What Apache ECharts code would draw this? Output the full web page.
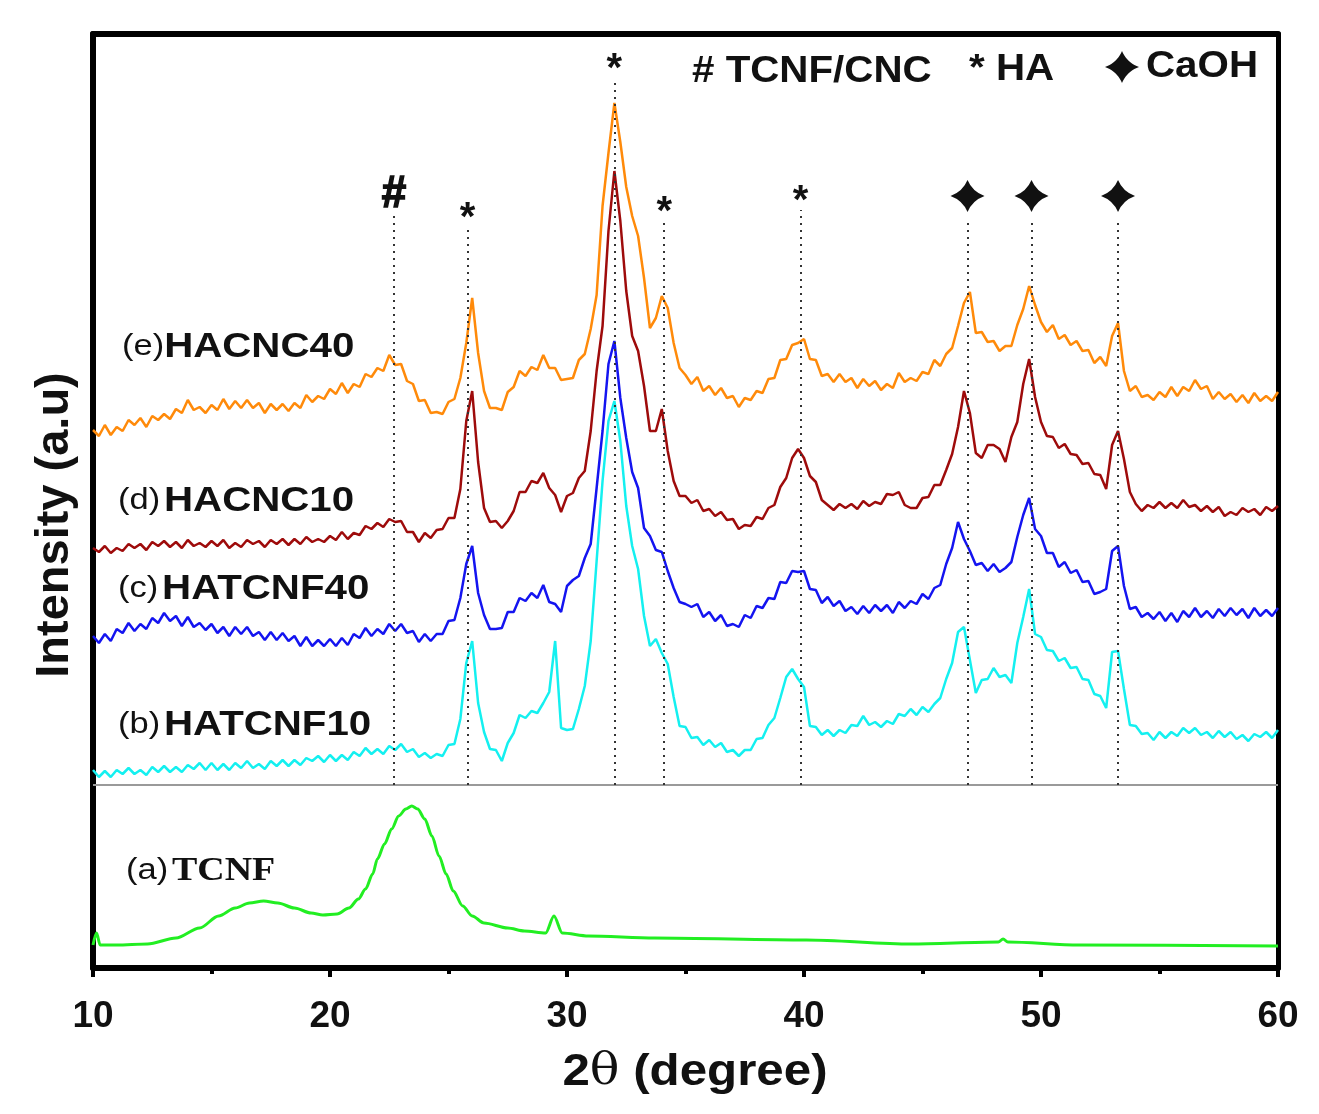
<!DOCTYPE html>
<html><head><meta charset="utf-8">
<script src="https://cdn.jsdelivr.net/npm/echarts@6/dist/echarts.min.js"></script>
<style>html,body{margin:0;padding:0;background:#fff}#c{width:1319px;height:1114px}</style>
</head><body><div id="c"></div>
<script>
// 2-theta sampling grid (degree)
const twoTheta = [
10,10.25,10.5,10.75,11,11.25,11.5,11.75,12,12.25,12.5,12.75,13,13.25,13.5,13.75,14,14.25,14.5,14.75,
15,15.25,15.5,15.75,16,16.25,16.5,16.75,17,17.25,17.5,17.75,18,18.25,18.5,18.75,19,19.25,19.5,19.75,
20,20.25,20.5,20.75,21,21.25,21.5,21.75,22,22.25,22.5,22.75,23,23.25,23.5,23.75,24,24.25,24.5,24.75,
25,25.25,25.5,25.75,26,26.25,26.5,26.75,27,27.25,27.5,27.75,28,28.25,28.5,28.75,29,29.25,29.5,29.75,
30,30.25,30.5,30.75,31,31.25,31.5,31.75,32,32.25,32.5,32.75,33,33.25,33.5,33.75,34,34.25,34.5,34.75,
35,35.25,35.5,35.75,36,36.25,36.5,36.75,37,37.25,37.5,37.75,38,38.25,38.5,38.75,39,39.25,39.5,39.75,
40,40.25,40.5,40.75,41,41.25,41.5,41.75,42,42.25,42.5,42.75,43,43.25,43.5,43.75,44,44.25,44.5,44.75,
45,45.25,45.5,45.75,46,46.25,46.5,46.75,47,47.25,47.5,47.75,48,48.25,48.5,48.75,49,49.25,49.5,49.75,
50,50.25,50.5,50.75,51,51.25,51.5,51.75,52,52.25,52.5,52.75,53,53.25,53.5,53.75,54,54.25,54.5,54.75,
55,55.25,55.5,55.75,56,56.25,56.5,56.75,57,57.25,57.5,57.75,58,58.25,58.5,58.75,59,59.25,59.5,59.75,
60];

// (e) HACNC40 (stacked intensity, a.u.)
const hacnc40 = [
538,532,543,533,541,537,548,543,550,541,552,548,554,549,559,555,568,558,561,555,
563,558,569,559,567,560,568,560,565,555,564,558,564,557,565,560,573,566,572,569,
579,574,585,575,584,581,594,591,600,597,613,603,604,587,584,567,568,555,556,554,
566,569,590,625,670,615,577,560,560,558,576,581,597,592,601,598,613,600,600,588,
589,590,608,614,639,673,762,815,865,826,781,752,732,690,640,650,672,660,625,600,
593,584,591,577,582,573,580,570,572,561,570,568,577,575,589,590,608,609,623,625,
629,609,608,592,594,586,594,586,590,580,589,582,587,578,584,580,595,586,590,587,
596,594,608,602,614,620,642,665,676,635,636,626,627,617,622,622,643,659,682,663,
646,636,643,629,633,623,627,617,618,605,611,602,632,645,597,577,582,571,573,568,
576,571,581,572,581,577,588,579,582,569,576,569,574,566,573,565,575,567,572,567,
576];

// (d) HACNC10
const hacnc10 = [
420,416,422,415,420,417,424,420,424,418,426,422,427,421,426,420,428,422,425,421,
427,422,428,420,425,421,428,424,427,421,428,424,429,423,429,424,431,426,429,426,
432,428,436,429,435,433,442,439,445,441,449,446,447,436,436,426,435,430,438,439,
450,450,479,547,577,506,460,446,447,440,447,457,476,476,487,485,495,480,473,456,
472,475,490,497,537,597,642,737,797,747,677,632,617,582,537,537,559,517,487,472,
472,465,468,457,459,452,456,448,449,439,443,442,451,449,460,463,481,490,510,519,
510,492,486,468,463,458,464,460,464,459,467,462,466,464,474,473,476,463,460,460,
470,471,483,483,498,514,541,577,555,515,510,523,523,519,506,531,546,584,609,571,
546,532,531,520,524,514,513,504,505,494,493,479,523,537,509,476,464,457,463,460,
466,460,465,460,468,461,463,457,462,456,461,452,456,453,460,456,459,453,461,457,
462];

// (c) HATCNF40
const hatcnf40 = [
332,325,334,327,339,335,345,337,344,339,350,345,355,347,352,342,351,341,345,338,
344,335,341,332,341,334,341,332,336,328,336,328,335,327,332,322,331,322,328,322,
329,322,330,323,334,330,340,332,339,334,344,337,344,335,337,326,334,327,334,334,
347,348,370,404,422,375,353,339,339,340,356,356,370,367,375,370,383,366,364,356,
382,388,392,410,424,480,537,604,627,570,530,496,480,440,432,418,416,397,380,366,
364,361,364,351,356,347,353,342,344,341,353,350,362,360,370,369,386,385,397,396,
397,379,378,365,371,362,367,357,361,354,362,355,363,357,363,355,366,360,367,364,
374,369,380,383,404,420,446,429,417,403,405,397,404,396,400,406,431,453,470,439,
432,415,415,401,406,395,398,386,387,374,376,379,417,422,382,359,361,351,355,349,
356,347,355,346,357,351,360,351,357,350,359,352,360,353,359,350,360,352,358,352,
360];

// (b) HATCNF10
const hatcnf10 = [
198,191,197,191,198,194,200,194,198,193,201,196,202,196,201,196,203,199,205,198,
205,198,204,198,205,200,207,200,204,199,207,202,208,202,208,203,210,207,212,206,
213,207,213,208,216,212,220,214,219,214,222,218,224,216,219,211,215,210,214,212,
223,224,249,305,327,265,236,219,218,207,225,235,253,250,257,255,265,276,327,240,
238,239,259,282,327,407,487,547,567,527,462,422,399,352,322,329,315,304,271,242,
241,230,231,223,228,221,225,216,218,212,218,218,229,230,243,250,270,291,299,289,
281,242,241,233,238,232,238,235,243,242,252,243,246,241,247,244,254,252,259,253,
261,256,264,270,289,305,336,341,308,275,288,289,300,291,293,285,325,351,379,334,
331,318,317,307,310,300,301,289,288,274,272,260,316,317,279,243,242,234,235,228,
236,230,236,232,240,235,240,233,236,230,237,231,236,229,233,227,234,231,236,230,
238];

// (a) TCNF  [2theta, intensity]
const tcnf = [[10,23],[10.15,35],[10.3,23],[11,23],[12.3,24],[13.5,30],[14.5,40],[15.3,52],[16,60],[16.6,65],
[17.2,67],[17.8,65],[18.5,60],[19.2,55],[19.7,53],[20.3,54],[20.8,60],[21.2,69],[21.5,79],[21.8,94],
[22,109],[22.3,124],[22.6,139],[22.9,152],[23.2,159],[23.45,162],[23.7,159],[24,149],[24.3,132],[24.6,112],
[24.9,94],[25.2,77],[25.6,62],[26,52],[26.5,45],[27.5,40],[28.2,37],[29.1,35],[29.45,52],[29.8,35],
[30.9,32],[33.7,30],[40.1,28],[44.5,24],[48.2,26],[48.4,29],[48.6,26],[51.6,23],[60,22]];

const xTicks = [10,20,30,40,50,60];
const yRange = [0,934];
const separatorLevel = 183;
const peakPos = [22.7,25.8,32.0,34.1,39.85,46.9,49.6,53.25];
const peakSymbol = ['#','*','*','*','*','✦','✦','✦'];
const peakLineTop = [752,739,888,746,758,750,750,750];
const peakLabelLevel = [773,749,898,755,766,772,772,772];

const seriesNames = ['HACNC40','HACNC10','HATCNF40','HATCNF10','TCNF'];
const seriesTags = ['(e)','(d)','(c)','(b)','(a)'];

const FONT = '"Liberation Sans", Arial, sans-serif';
const STAR = 'path://M10,0 Q12.8,7.2 20,10 Q12.8,12.8 10,20 Q7.2,12.8 0,10 Q7.2,7.2 10,0 Z';

// four-pointed star outline as polygon points (for the legend glyph)
function starPolygon(cx, cy, w, h){
  const ctrl = [[12.8,7.2],[12.8,12.8],[7.2,12.8],[7.2,7.2]];
  const tips = [[10,0],[20,10],[10,20],[0,10],[10,0]];
  const pts = [];
  for (let k=0;k<4;k++){
    const a=tips[k], b=tips[k+1], c=ctrl[k];
    for (let t=0;t<1;t+=0.1){
      const x=(1-t)*(1-t)*a[0]+2*(1-t)*t*c[0]+t*t*b[0];
      const y=(1-t)*(1-t)*a[1]+2*(1-t)*t*c[1]+t*t*b[1];
      pts.push([cx-w/2+x*w/20, cy-h/2+y*h/20]);
    }
  }
  return pts;
}

const chart = echarts.init(document.getElementById('c'));
const zip = arr => twoTheta.map((x,i)=>[x,arr[i]]);
const lineS = (name, arr, color) => ({
  name, type:'line', data: zip(arr), showSymbol:false, symbol:'none', animation:false,
  lineStyle:{color, width:2.5}, itemStyle:{color}, z:2, silent:true
});

const markData = [
  [{coord:[xTicks[0], separatorLevel], lineStyle:{type:'solid', color:'#9a9a9a', width:2}},
   {coord:[xTicks[xTicks.length-1], separatorLevel]}]
];
peakPos.forEach((x,i)=>{
  markData.push([{coord:[x, separatorLevel]},{coord:[x, peakLineTop[i]]}]);
});

function label(tag, name, x, y, serif){
  return {
    type:'text', x, y, scaleX:1.15, z:10,
    style:{
      text:'{p|'+tag+'}'+(tag==='(e)'?'':' ')+'{'+(serif?'s':'b')+'|'+name+'}',
      verticalAlign:'middle', align:'left',
      rich:{
        p:{fontSize:30, fontFamily:FONT, fill:'#111'},
        b:{fontSize:35, fontWeight:'bold', fontFamily:FONT, fill:'#111'},
        s:{fontSize:33, fontWeight:'bold', fontFamily:'"Liberation Serif", "Times New Roman", serif', fill:'#111'}
      }
    }
  };
}

chart.setOption({
  animation:false,
  backgroundColor:'#fff',
  grid:{left:93, right:41, top:34, bottom:146, containLabel:false},
  xAxis:[
    {type:'value', min:xTicks[0], max:xTicks[xTicks.length-1], interval:xTicks[1]-xTicks[0], position:'bottom',
     axisLine:{show:true, onZero:false, lineStyle:{color:'#000', width:6}},
     axisTick:{show:true, length:9, lineStyle:{color:'#000', width:4}},
     minorTick:{show:true, splitNumber:2, length:6, lineStyle:{color:'#000', width:4}},
     axisLabel:{fontSize:37, fontWeight:'bold', fontFamily:FONT, color:'#111', margin:30},
     splitLine:{show:false}},
    {type:'value', min:xTicks[0], max:xTicks[xTicks.length-1], position:'top',
     axisLine:{show:true, onZero:false, lineStyle:{color:'#000', width:6}},
     axisTick:{show:false}, axisLabel:{show:false}, splitLine:{show:false}}
  ],
  yAxis:[
    {type:'value', min:yRange[0], max:yRange[1], position:'left',
     axisLine:{show:true, onZero:false, lineStyle:{color:'#000', width:6}},
     axisTick:{show:false}, axisLabel:{show:false}, splitLine:{show:false}},
    {type:'value', min:yRange[0], max:yRange[1], position:'right',
     axisLine:{show:true, onZero:false, lineStyle:{color:'#000', width:5}},
     axisTick:{show:false}, axisLabel:{show:false}, splitLine:{show:false}}
  ],
  series:[
    lineS(seriesNames[0], hacnc40, '#ff8a0a'),
    lineS(seriesNames[1], hacnc10, '#9e0b0b'),
    lineS(seriesNames[2], hatcnf40, '#1414f0'),
    lineS(seriesNames[3], hatcnf10, '#14f0f0'),
    {name:seriesNames[4], type:'line', data:tcnf, smooth:0.3, smoothMonotone:'x', showSymbol:false, symbol:'none',
     lineStyle:{color:'#22ee22', width:3}, itemStyle:{color:'#22ee22'}, z:2, silent:true,
     markLine:{silent:true, symbol:['none','none'], label:{show:false}, animation:false,
       lineStyle:{type:[2,5], color:'#333', width:2}, data:markData}},
    {type:'custom', coordinateSystem:'cartesian2d', silent:true, z:5,
     encode:{x:0, y:1},
     data: peakPos.map((x,i)=>[x, peakLabelLevel[i], i]).filter(d=>peakSymbol[d[2]]!=='✦'),
     renderItem:(params, api)=>{
       const p = api.coord([api.value(0), api.value(1)]);
       const s = peakSymbol[api.value(2)];
       return {type:'text', x:p[0], y:p[1], style:{text:s, fill:'#111',
         fontSize: s==='#'?44:40, fontWeight:'bold', fontFamily:FONT, align:'center', verticalAlign:'middle',
         stroke: s==='#'?'#111':null, lineWidth: s==='#'?1.5:0}};
     }},
    {type:'scatter', silent:true, z:5, symbol:STAR, symbolSize:[34,32], itemStyle:{color:'#111', opacity:1},
     data: peakPos.map((x,i)=>[x, peakLabelLevel[i], i]).filter(d=>peakSymbol[d[2]]==='✦')}
  ],
  graphic:[
    {type:'text', x:55, y:525, rotation:Math.PI/2, z:10,
     style:{text:'Intensity (a.u)', fontSize:47, fontWeight:'bold', fontFamily:FONT, fill:'#111', align:'center', verticalAlign:'middle'}},
    {type:'text', x:695, y:1073, scaleX:1.12, z:10,
     style:{text:'{b|2}{t|θ}{b| (degree)}', align:'center', verticalAlign:'middle',
       rich:{b:{fontSize:44, fontWeight:'bold', fontFamily:FONT, fill:'#111'},
             t:{fontSize:44, fontFamily:'"DejaVu Serif", serif', fill:'#111'}}}},
    label(seriesTags[0], seriesNames[0], 122, 347),
    label(seriesTags[1], seriesNames[1], 118, 501),
    label(seriesTags[2], seriesNames[2], 118, 589),
    label(seriesTags[3], seriesNames[3], 118, 725),
    label(seriesTags[4], seriesNames[4], 126, 871, true),
    {type:'text', x:692, y:72, scaleX:1.12, z:10,
     style:{text:'# TCNF/CNC', fontSize:36, fontWeight:'bold', fontFamily:FONT, fill:'#111', align:'left', verticalAlign:'middle'}},
    {type:'text', x:969, y:70, scaleX:1.12, z:10,
     style:{text:'* HA', fontSize:36, fontWeight:'bold', fontFamily:FONT, fill:'#111', align:'left', verticalAlign:'middle'}},
    {type:'polygon', z:10, shape:{points:starPolygon(1122, 67, 34, 32)}, style:{fill:'#111'}},
    {type:'text', x:1146, y:67, scaleX:1.12, z:10,
     style:{text:'CaOH', fontSize:36, fontWeight:'bold', fontFamily:FONT, fill:'#111', align:'left', verticalAlign:'middle'}}
  ]
});
</script></body></html>
